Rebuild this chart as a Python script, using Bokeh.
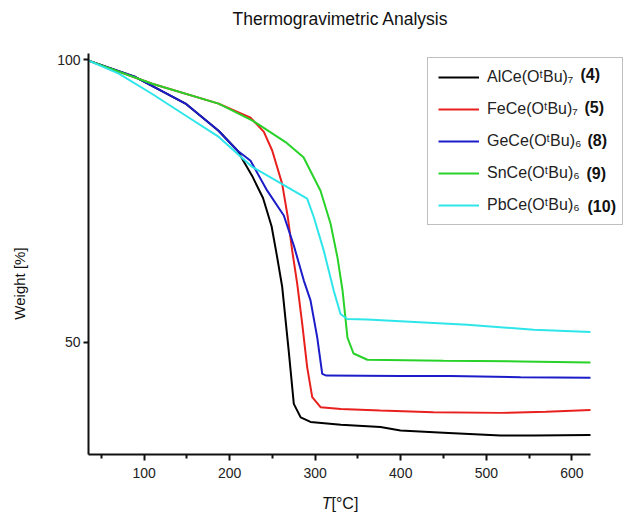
import math
from bokeh.plotting import figure
from bokeh.models import Label, Legend, LegendItem, FixedTicker, Range1d, LinearAxis
from bokeh.embed import file_html
from bokeh.resources import INLINE

# ---------------- data ----------------
names = ["AlCe(OᵗBu)₇", "FeCe(OᵗBu)₇", "GeCe(OᵗBu)₆", "SnCe(OᵗBu)₆", "PbCe(OᵗBu)₆"]
numbers = ["(4)", "(5)", "(8)", "(9)", "(10)"]
colors = ["#000000", "#e8201e", "#1c1cc8", "#28d228", "#2ee6ea"]

t_al = [35, 89.9, 148.4, 187, 209, 226, 239, 249, 255, 261.4, 269, 275, 283, 294.5, 330, 376.3, 399.7, 450, 516.6, 555.2, 621.8]
w_al = [99.8, 96.9, 92.2, 87.4, 83.9, 79.5, 75.5, 70.5, 65.5, 59.8, 48.5, 39.1, 36.7, 35.9, 35.4, 35.0, 34.4, 34.0, 33.5, 33.5, 33.6]

t_fe = [35, 109.5, 187, 224.4, 240, 249.7, 261.4, 268, 273.1, 279, 284.8, 290.6, 296.5, 306.2, 330, 376, 438, 517, 570, 621.8]
w_fe = [99.8, 95.7, 92.2, 89.7, 87.2, 83.9, 78.0, 72.1, 66.2, 60.3, 53.3, 45.6, 40.3, 38.5, 38.2, 37.9, 37.6, 37.5, 37.7, 38.0]

t_ge = [35, 89.9, 148.4, 187, 209, 224.4, 243.9, 263.3, 275, 286.7, 294.5, 302.3, 308.2, 313, 400, 458, 540, 621.8]
w_ge = [99.8, 96.9, 92.2, 87.4, 83.9, 82.1, 76.8, 72.4, 67.1, 60.9, 57.4, 50.9, 44.4, 44.1, 44.0, 44.0, 43.8, 43.7]

t_sn = [35, 109.5, 187, 226.7, 265.3, 286.3, 306.2, 317.9, 326, 332, 337.7, 344.8, 361, 450, 540, 621.8]
w_sn = [99.8, 95.7, 92.2, 89.2, 85.4, 82.7, 76.8, 71.0, 65.0, 59.1, 50.8, 48.0, 46.9, 46.7, 46.6, 46.4]

t_pb = [35, 70.4, 109.5, 148.4, 187.3, 226.4, 257.4, 290.6, 298.4, 310, 321.7, 329.6, 337.4, 360.7, 399.7, 477.7, 555.5, 621.8]
w_pb = [99.8, 97.5, 93.9, 90.1, 86.3, 81.0, 78.3, 75.4, 72.1, 66.2, 59.1, 55.0, 54.1, 54.0, 53.7, 53.1, 52.2, 51.8]

x_ticks = [100, 200, 300, 400, 500, 600]
x_minor = [50, 150, 250, 350, 450, 550]
y_ticks = [50, 100]

title_text = "Thermogravimetric Analysis"
ylabel_text = "Weight [%]"
xlabel_italic = "T"
xlabel_rest = "[°C]"

# axis extents (data units)
T_MIN, T_MAX = 35.0, 621.8
W_MIN, W_MAX = 30.14, 101.06

# ---------------- layout ----------------
WIDTH, HEIGHT = 625, 512
SX = 0.8555   # px per °C
SY = 5.654    # px per %
AX_LEFT_PX = 88
AX_100_PX = 59
X0 = T_MIN - AX_LEFT_PX / SX
X1 = X0 + WIDTH / SX
Y1 = 100 + AX_100_PX / SY
Y0 = Y1 - HEIGHT / SY
FONT = "Liberation Sans"

def dx(px):
    return X0 + px / SX

def dy(py):
    return Y1 - py / SY

p = figure(width=WIDTH, height=HEIGHT, output_backend="svg", toolbar_location=None,
           x_range=Range1d(X0, X1), y_range=Range1d(Y0, Y1),
           x_axis_location=None, y_axis_location=None,
           min_border=0, min_border_left=0, min_border_right=0,
           min_border_top=0, min_border_bottom=0)
p.outline_line_color = None
p.xgrid.visible = False
p.ygrid.visible = False
p.background_fill_color = "white"
p.border_fill_color = "white"

series = [(t_al, w_al), (t_fe, w_fe), (t_ge, w_ge), (t_sn, w_sn), (t_pb, w_pb)]
renderers = []
for (t, w), c in zip(series, colors):
    r = p.line(t, w, line_color=c, line_width=2)
    renderers.append(r)

# axes drawn at fixed data locations inside the frame
xaxis = LinearAxis(fixed_location=W_MIN, bounds=(T_MIN, T_MAX),
                   ticker=FixedTicker(ticks=x_ticks, minor_ticks=x_minor))
yaxis = LinearAxis(fixed_location=T_MIN, bounds=(W_MIN, W_MAX),
                   ticker=FixedTicker(ticks=y_ticks, minor_ticks=[]))
for ax in (xaxis, yaxis):
    ax.axis_line_width = 2
    ax.axis_line_color = "#111111"
    ax.major_tick_line_width = 2
    ax.major_tick_line_color = "#111111"
    ax.minor_tick_line_width = 2
    ax.minor_tick_line_color = "#111111"
    ax.major_tick_in = 0
    ax.minor_tick_in = 0
    ax.major_label_text_font = FONT
    ax.major_label_text_font_size = "14px"
    ax.major_label_text_color = "#222222"
xaxis.major_tick_out = 6
xaxis.minor_tick_out = 4
xaxis.major_label_standoff = 8
yaxis.major_tick_out = 5
yaxis.minor_tick_out = 0
yaxis.major_label_standoff = 3
p.add_layout(xaxis, "below")
p.add_layout(yaxis, "left")

# legend
items = [LegendItem(label=n, renderers=[r]) for n, r in zip(names, renderers)]
legend = Legend(items=items, location=(427, HEIGHT - 225), padding=10, spacing=14,
                glyph_width=41, glyph_height=14, label_height=14, label_width=125,
                label_standoff=8, label_text_font=FONT, label_text_font_size="16px",
                label_text_color="#222222", border_line_color="#808080",
                border_line_width=1, background_fill_alpha=0.0, margin=0)
p.add_layout(legend)

num_x = [580, 584, 587, 586, 587]
row_y = [74, 107, 140, 173, 206]
for n, xx, yy in zip(numbers, num_x, row_y):
    p.add_layout(Label(x=dx(xx), y=dy(yy), text=n, text_font=FONT, text_font_size="16px",
                       text_font_style="bold", text_baseline="middle", text_color="#111111"))

# title / axis labels
p.add_layout(Label(x=dx(340), y=dy(18), text=title_text, text_font=FONT, text_font_size="17.5px",
                   text_align="center", text_baseline="middle", text_color="#111111"))
p.add_layout(Label(x=dx(19), y=dy(283), text=ylabel_text, text_font=FONT, text_font_size="15px",
                   text_align="center", text_baseline="middle", angle=math.pi / 2,
                   text_color="#111111"))
p.add_layout(Label(x=dx(331), y=dy(503), text=xlabel_italic, text_font=FONT, text_font_size="16px",
                   text_font_style="italic", text_align="right", text_baseline="alphabetic",
                   text_color="#111111"))
p.add_layout(Label(x=dx(331), y=dy(503), text=xlabel_rest, text_font=FONT, text_font_size="16px",
                   text_align="left", text_baseline="alphabetic", text_color="#111111"))

open("out.html", "w").write(file_html(p, INLINE))
